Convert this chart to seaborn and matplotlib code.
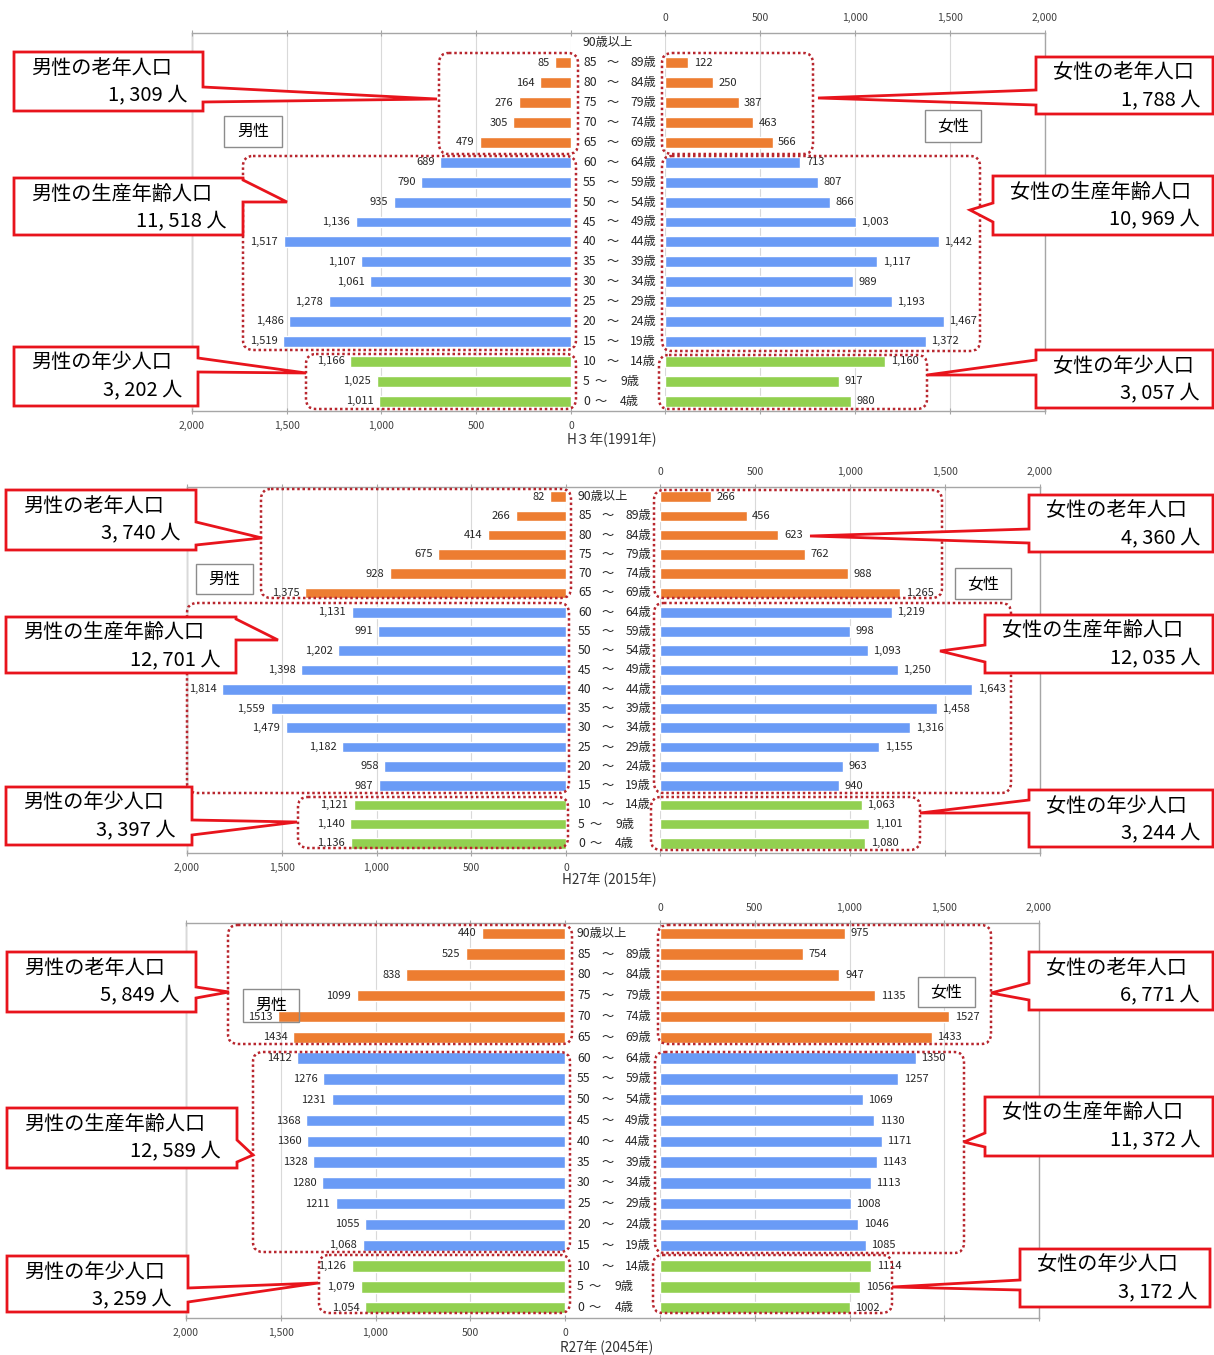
import numpy as np
import pandas as pd
import matplotlib
matplotlib.use("Agg")
import matplotlib.pyplot as plt
from matplotlib.patches import FancyBboxPatch, Polygon, Rectangle
from matplotlib.transforms import blended_transform_factory
import seaborn as sns

# ---------------------------------------------------------------- data
AGE_KEYS = ["90+", "85-89", "80-84", "75-79", "70-74", "65-69", "60-64", "55-59",
            "50-54", "45-49", "40-44", "35-39", "30-34", "25-29", "20-24", "15-19",
            "10-14", "5-9", "0-4"]
AGE_FROM = ["90", "85", "80", "75", "70", "65", "60", "55", "50", "45", "40", "35",
            "30", "25", "20", "15", "10", "5", "0"]
AGE_TO = ["以上", "89", "84", "79", "74", "69", "64", "59", "54", "49", "44", "39",
          "34", "29", "24", "19", "14", "9", "4"]
GROUPS = ["老年"] * 6 + ["生産年齢"] * 10 + ["年少"] * 3
GROUP_ORDER = ["老年", "生産年齢", "年少"]
GROUP_COLORS = {"老年": "#ED7D31", "生産年齢": "#6A9BF6", "年少": "#92D050"}

H3_MALE = [np.nan, 85, 164, 276, 305, 479, 689, 790, 935, 1136, 1517, 1107, 1061,
           1278, 1486, 1519, 1166, 1025, 1011]
H3_FEMALE = [np.nan, 122, 250, 387, 463, 566, 713, 807, 866, 1003, 1442, 1117, 989,
             1193, 1467, 1372, 1160, 917, 980]
H27_MALE = [82, 266, 414, 675, 928, 1375, 1131, 991, 1202, 1398, 1814, 1559, 1479,
            1182, 958, 987, 1121, 1140, 1136]
H27_FEMALE = [266, 456, 623, 762, 988, 1265, 1219, 998, 1093, 1250, 1643, 1458, 1316,
              1155, 963, 940, 1063, 1101, 1080]
R27_MALE = [440, 525, 838, 1099, 1513, 1434, 1412, 1276, 1231, 1368, 1360, 1328, 1280,
            1211, 1055, 1068, 1126, 1079, 1054]
R27_FEMALE = [975, 754, 947, 1135, 1527, 1433, 1350, 1257, 1069, 1130, 1171, 1143,
              1113, 1008, 1046, 1085, 1114, 1056, 1002]
# rows of the 2045 male pyramid whose labels carry a thousands separator
R27_MALE_COMMA_ROWS = [15, 16, 17, 18]

TITLES = ["H３年(1991年)", "H27年 (2015年)", "R27年 (2045年)"]
TICKS = [0, 500, 1000, 1500, 2000]

# ---------------------------------------------------------------- layout (pixels)
W, H = 1214, 1355

PANELS = [
    dict(male=H3_MALE, female=H3_FEMALE, male_comma=None, female_comma=None,
         mx=(192, 571), fx=(665, 1045), y=(33, 411), title=(567, 440),
         sexbox={"男性": (224, 116, 282, 147), "女性": (925, 110, 981, 142)},
         dotted={("男性", "老年"): (439, 53, 578, 154), ("女性", "老年"): (662, 53, 813, 154),
                 ("男性", "生産年齢"): (243, 156, 576, 350), ("女性", "生産年齢"): (662, 156, 980, 351),
                 ("男性", "年少"): (306, 354, 576, 409), ("女性", "年少"): (659, 355, 927, 409)},
         callouts={("男性", "老年"): ((14, 52, 203, 111), 87, 102, (437, 99)),
                   ("男性", "生産年齢"): ((14, 178, 243, 235), 180, 202, (287, 202)),
                   ("男性", "年少"): ((14, 347, 198, 406), 358, 372, (306, 373)),
                   ("女性", "老年"): ((1036, 57, 1213, 114), 90, 105, (818, 98)),
                   ("女性", "生産年齢"): ((993, 176, 1213, 235), 203, 222, (970, 210)),
                   ("女性", "年少"): ((1036, 350, 1213, 408), 360, 375, (927, 375))}),
    dict(male=H27_MALE, female=H27_FEMALE, male_comma=None, female_comma=None,
         mx=(187, 566), fx=(660, 1040), y=(487, 853), title=(562, 880),
         sexbox={"男性": (196, 564, 253, 594), "女性": (955, 568, 1011, 599)},
         dotted={("男性", "老年"): (261, 489, 571, 598), ("女性", "老年"): (654, 490, 942, 598),
                 ("男性", "生産年齢"): (187, 603, 569, 793), ("女性", "生産年齢"): (654, 603, 1011, 793),
                 ("男性", "年少"): (298, 797, 568, 848), ("女性", "年少"): (651, 797, 920, 850)},
         callouts={("男性", "老年"): ((6, 490, 196, 550), 522, 545, (262, 538)),
                   ("男性", "生産年齢"): ((6, 617, 236, 673), 619, 640, (278, 640)),
                   ("男性", "年少"): ((6, 787, 192, 845), 820, 835, (297, 822)),
                   ("女性", "老年"): ((1029, 495, 1213, 552), 529, 543, (810, 536)),
                   ("女性", "生産年齢"): ((985, 615, 1213, 673), 645, 662, (940, 651)),
                   ("女性", "年少"): ((1029, 790, 1213, 847), 800, 813, (920, 813))}),
    dict(male=R27_MALE, female=R27_FEMALE, male_comma=R27_MALE_COMMA_ROWS, female_comma=[],
         mx=(186, 565), fx=(660, 1039), y=(923, 1318), title=(560, 1348),
         sexbox={"男性": (243, 989, 299, 1022), "女性": (918, 977, 975, 1007)},
         dotted={("男性", "老年"): (228, 925, 572, 1044), ("女性", "老年"): (658, 925, 991, 1044),
                 ("男性", "生産年齢"): (253, 1052, 570, 1252), ("女性", "生産年齢"): (655, 1052, 964, 1253),
                 ("男性", "年少"): (319, 1255, 570, 1313), ("女性", "年少"): (653, 1255, 892, 1313)},
         callouts={("男性", "老年"): ((7, 952, 196, 1012), 987, 998, (229, 992)),
                   ("男性", "生産年齢"): ((7, 1108, 237, 1168), 1140, 1162, (253, 1155)),
                   ("男性", "年少"): ((7, 1256, 188, 1312), 1288, 1302, (318, 1283)),
                   ("女性", "老年"): ((1029, 952, 1213, 1010), 983, 1000, (991, 993)),
                   ("女性", "生産年齢"): ((985, 1097, 1213, 1156), 1133, 1147, (964, 1142)),
                   ("女性", "年少"): ((1020, 1249, 1210, 1307), 1280, 1290, (892, 1287))}),
]

FRAME_COLOR = "#A6A6A6"
GRID_COLOR = "#D9D9D9"
DOT_COLOR = "#B8262E"
CALLOUT_COLOR = "#E8141C"
TEXT_COLOR = "#262626"

sns.set_theme(style="white")
plt.rcParams["font.family"] = ["Noto Sans CJK JP", "DejaVu Sans"]
plt.rcParams["axes.unicode_minus"] = False

fig = plt.figure(figsize=(W / 100, H / 100), dpi=100)


def px_axes(x0, y0, x1, y1, **kw):
    return fig.add_axes([x0 / W, 1 - y1 / H, (x1 - x0) / W, (y1 - y0) / H], **kw)


def fmt(v, comma):
    return f"{int(v):,}" if comma else f"{int(v)}"


def draw_side(ax, values, male, comma_rows):
    df = pd.DataFrame({"age": AGE_KEYS, "pop": values, "group": GROUPS}).dropna()
    sns.barplot(data=df, x="pop", y="age", hue="group", order=AGE_KEYS,
                hue_order=GROUP_ORDER, palette=GROUP_COLORS, dodge=False,
                width=0.55, saturation=1, legend=False, ax=ax, zorder=2)
    ax.set_xlim((2000, 0) if male else (0, 2000))
    ax.set_ylim(len(AGE_KEYS) - 0.5, -0.5)
    ax.set_xlabel("")
    ax.set_ylabel("")
    ax.set_yticks([])
    ax.set_xticks(TICKS)
    ax.set_xticklabels([f"{t:,}" for t in TICKS])
    ax.grid(axis="x", color=GRID_COLOR, lw=0.8)
    ax.set_axisbelow(True)
    ax.patch.set_alpha(0)
    for s in ax.spines.values():
        s.set_visible(False)
    ax.tick_params(axis="x", bottom=True, top=True, labelbottom=male, labeltop=not male,
                   direction="inout", length=5, width=0.8, color=FRAME_COLOR,
                   labelsize=7.5, labelcolor="#404040", pad=5)
    for i, v in enumerate(values):
        if np.isnan(v):
            continue
        comma = True if comma_rows is None else (i in comma_rows)
        ax.annotate(fmt(v, comma), xy=(v, i), xytext=(-4 if male else 4, 0),
                    textcoords="offset points", ha="right" if male else "left",
                    va="center", fontsize=8, color=TEXT_COLOR, zorder=3)


overlay = fig.add_axes([0, 0, 1, 1], zorder=5)
overlay.set_xlim(0, W)
overlay.set_ylim(H, 0)
overlay.axis("off")
overlay.patch.set_alpha(0)


def callout(box, ya, yb, tip, line1, line2):
    x0, y0, x1, y1 = box
    points_right = tip[0] > x1
    if points_right:
        pts = [(x0, y0), (x1, y0), (x1, ya), tip, (x1, yb), (x1, y1), (x0, y1)]
    else:
        pts = [(x0, y0), (x1, y0), (x1, y1), (x0, y1), (x0, yb), tip, (x0, ya)]
    overlay.add_patch(Polygon(pts, closed=True, fc="white", ec=CALLOUT_COLOR, lw=2,
                              joinstyle="miter"))
    overlay.text(x0 + 17, y0 + 16, line1, ha="left", va="center", fontsize=14.5,
                 color="black")
    right = x1 - 16 if points_right else x1 - 13
    overlay.text(right, y0 + 44, line2, ha="right", va="center", fontsize=14.5,
                 color="black")


for title, p in zip(TITLES, PANELS):
    (mx0, mx1), (fx0, fx1), (y0, y1) = p["mx"], p["fx"], p["y"]

    frame = px_axes(mx0, y0, fx1, y1, zorder=0)
    frame.set_xticks([])
    frame.set_yticks([])
    frame.set_facecolor("white")
    for s in frame.spines.values():
        s.set_color(FRAME_COLOR)
        s.set_linewidth(1)

    ax_m = px_axes(mx0, y0, mx1, y1, zorder=1)
    ax_f = px_axes(fx0, y0, fx1, y1, zorder=1)
    draw_side(ax_m, p["male"], True, p["male_comma"])
    draw_side(ax_f, p["female"], False, p["female_comma"])

    # age class labels between the two halves
    mid = px_axes(mx1, y0, fx0, y1, zorder=1)
    mid.set_ylim(len(AGE_KEYS) - 0.5, -0.5)
    mid.axis("off")
    tr = blended_transform_factory(mid.transAxes, mid.transData)
    for i, (a, b) in enumerate(zip(AGE_FROM, AGE_TO)):
        kw = dict(transform=tr, va="center", fontsize=8.8, color=TEXT_COLOR)
        if b == "以上":
            mid.text(0.12, i, a + "歳以上", ha="left", **kw)
        elif len(a) == 1:
            mid.text(0.128, i, a, ha="left", **kw)
            mid.text(0.31, i, "～", ha="center", **kw)
            mid.text(0.725, i, b + "歳", ha="right", **kw)
        else:
            mid.text(0.128, i, a, ha="left", **kw)
            mid.text(0.447, i, "～", ha="center", **kw)
            mid.text(0.905, i, b + "歳", ha="right", **kw)

    overlay.text(p["title"][0], p["title"][1], title, ha="left", va="center",
                 fontsize=9.8, color="#333333")

    # dotted group frames
    for (bx0, by0, bx1, by1) in p["dotted"].values():
        overlay.add_patch(FancyBboxPatch((bx0, by0), bx1 - bx0, by1 - by0,
                                         boxstyle="round,pad=0,rounding_size=10",
                                         fill=False, ec=DOT_COLOR, lw=1.8,
                                         ls=(0, (1, 1.1))))

    # sex captions
    for sex, (sx0, sy0, sx1, sy1) in p["sexbox"].items():
        overlay.add_patch(Rectangle((sx0, sy0), sx1 - sx0, sy1 - sy0,
                                    fc="white" if sex == "女性" or p is not PANELS[2] else "none",
                                    ec="#8C8C8C", lw=1))
        overlay.text((sx0 + sx1) / 2, (sy0 + sy1) / 2, sex, ha="center", va="center",
                     fontsize=11.5, color="black")

    # callouts with group totals
    for (sex, grp), (box, ya, yb, tip) in p["callouts"].items():
        vals = np.array(p["male"] if sex == "男性" else p["female"], dtype=float)
        total = int(np.nansum(vals[np.array(GROUPS) == grp]))
        callout(box, ya, yb, tip, f"{sex}の{grp}人口",
                f"{total:,}".replace(",", ", ") + " 人")

fig.savefig("out.png", dpi=100)
